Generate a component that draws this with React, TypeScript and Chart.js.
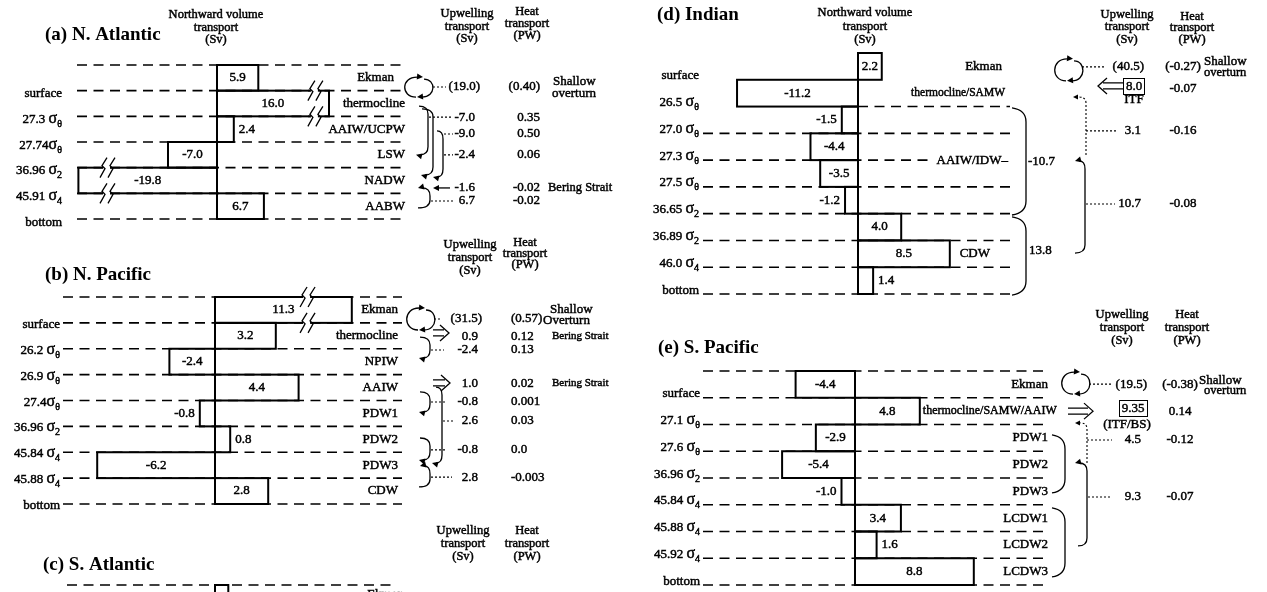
import React, { useEffect, useRef } from "react";
import { Chart, registerables } from "chart.js";

Chart.register(...registerables);

const W = 1267;
const H = 592;
const SERIF = '"Liberation Serif", "Times New Roman", Times, serif';

// ================= DATA =================
// (a) N. Atlantic
const natlLayers = ["Ekman", "thermocline", "AAIW/UCPW", "LSW", "NADW", "AABW"];
const natlTransport = [5.9, 16.0, 2.4, -7.0, -19.8, 6.7];
const natlBoundaries = ["", "surface", "27.3 σθ", "27.74σθ", "36.96 σ2", "45.91 σ4", "bottom"];
const natlUpwelling = ["(19.0)", "-7.0", "-9.0", "-2.4", "-1.6", "6.7"];
const natlHeat = ["(0.40)", "0.35", "0.50", "0.06", "-0.02", "-0.02"];

// (b) N. Pacific
const npacLayers = ["Ekman", "thermocline", "NPIW", "AAIW", "PDW1", "PDW2", "PDW3", "CDW"];
const npacTransport = [11.3, 3.2, -2.4, 4.4, -0.8, 0.8, -6.2, 2.8];
const npacBoundaries = ["", "surface", "26.2 σθ", "26.9 σθ", "27.4σθ", "36.96 σ2", "45.84 σ4", "45.88 σ4", "bottom"];
const npacUpwelling = ["(31.5)", "0.9", "-2.4", "1.0", "-0.8", "2.6", "-0.8", "2.8"];
const npacHeat = ["(0.57)", "0.12", "0.13", "0.02", "0.001", "0.03", "0.0", "-0.003"];

// (c) S. Atlantic (only the top edge is visible)
const satlLayers = ["Ekman"];
const satlTransport = [1.9];
const satlBoundaries = [""];

// (d) Indian
const indLayers = ["Ekman", "thermocline/SAMW", "", "", "", "", "", "CDW", ""];
const indTransport = [2.2, -11.2, -1.5, -4.4, -3.5, -1.2, 4.0, 8.5, 1.4];
const indBoundaries = ["", "surface", "26.5 σθ", "27.0 σθ", "27.3 σθ", "27.5 σθ", "36.65 σ2", "36.89 σ2", "46.0 σ4", "bottom"];
const indGroupLabel = "AAIW/IDW–";
const indGroupTransport = ["-10.7", "13.8"];
const indUpwelling = ["(40.5)", "8.0", "3.1", "10.7"];
const indHeat = ["(-0.27)", "-0.07", "-0.16", "-0.08"];

// (e) S. Pacific
const spacLayers = ["Ekman", "thermocline/SAMW/AAIW", "PDW1", "PDW2", "PDW3", "LCDW1", "LCDW2", "LCDW3"];
const spacTransport = [-4.4, 4.8, -2.9, -5.4, -1.0, 3.4, 1.6, 8.8];
const spacBoundaries = ["", "surface", "27.1 σθ", "27.6 σθ", "36.96 σ2", "45.84 σ4", "45.88 σ4", "45.92 σ4", "bottom"];
const spacUpwelling = ["(19.5)", "9.35", "4.5", "9.3"];
const spacHeat = ["(-0.38)", "0.14", "-0.12", "-0.07"];

// header texts
const hdrVolume = ["Northward volume", "transport", "(Sv)"];
const hdrUpwelling = ["Upwelling", "transport", "(Sv)"];
const hdrHeat = ["Heat", "transport", "(PW)"];

// ================= LAYOUT (positions in layer units) =================
const natlRowPos = [0.86, 2.03, 2.69, 3.5, 4.79, 5.3];
const npacRowPos = [0.85, 1.53, 2.05, 3.34, 4.06, 4.79, 5.91, 6.96];
const indRowPos = [0.52, 1.23, 2.91, 5.64];
const indHeatPos = [0.52, 1.34, 2.91, 5.64];
const spacRowPos = [0.49, 1.38, 2.58, 4.71];
const spacHeatPos = [0.49, 1.5, 2.58, 4.71];

// ================= DRAW HELPERS =================
type C2D = CanvasRenderingContext2D;
const INK = 0.45;

function setFont(ctx: C2D, size: number, bold = false) {
  ctx.font = `${bold ? "bold " : ""}${size}px ${SERIF}`;
}
function ink(ctx: C2D, s: string, x: number, y: number, bold = false) {
  ctx.fillStyle = "#000";
  ctx.fillText(s, x, y);
  if (!bold) {
    ctx.save();
    ctx.setLineDash([]);
    ctx.lineWidth = INK;
    ctx.strokeStyle = "#000";
    ctx.strokeText(s, x, y);
    ctx.restore();
  }
}
function text(ctx: C2D, s: string, x: number, y: number, size = 13, align: CanvasTextAlign = "left", bold = false) {
  setFont(ctx, size, bold);
  ctx.textAlign = align;
  ctx.textBaseline = "middle";
  ink(ctx, s, x, y, bold);
}
function stack(ctx: C2D, arr: string[], cx: number, ys: number[], size = 12.5) {
  arr.forEach((s, i) => text(ctx, s, cx, ys[i], size, "center"));
}
function sigmaLabel(ctx: C2D, s: string, xr: number, y: number) {
  ctx.textBaseline = "alphabetic";
  const k = s.indexOf("σ");
  if (k < 0) {
    setFont(ctx, 13);
    ctx.textAlign = "right";
    ink(ctx, s, xr, y + 4.5);
    return;
  }
  const main = s.slice(0, k);
  const sub = s.slice(k + 1);
  setFont(ctx, 13);
  const w1 = ctx.measureText(main).width;
  setFont(ctx, 16);
  const w2 = ctx.measureText("σ").width;
  setFont(ctx, 10);
  const w3 = ctx.measureText(sub).width;
  const x0 = xr - (w1 + w2 + w3);
  ctx.textAlign = "left";
  setFont(ctx, 13);
  ink(ctx, main, x0, y + 4.5);
  setFont(ctx, 16);
  ink(ctx, "σ", x0 + w1, y + 4.5);
  setFont(ctx, 10);
  ink(ctx, sub, x0 + w1 + w2, y + 8.5);
}
function arrowHead(ctx: C2D, x: number, y: number, dx: number, dy: number, len = 6, hw = 3) {
  const L = Math.hypot(dx, dy);
  const ux = dx / L, uy = dy / L;
  ctx.save();
  ctx.setLineDash([]);
  ctx.fillStyle = "#000";
  ctx.beginPath();
  ctx.moveTo(x, y);
  ctx.lineTo(x - ux * len - uy * hw, y - uy * len + ux * hw);
  ctx.lineTo(x - ux * len + uy * hw, y - uy * len - ux * hw);
  ctx.closePath();
  ctx.fill();
  ctx.restore();
}
function bracket(ctx: C2D, xTop: number, yT: number, xv: number, yB: number, xBot: number, aTop: boolean, aBot: boolean) {
  const r = Math.min(8, (yB - yT) / 2);
  ctx.save();
  ctx.setLineDash([]);
  ctx.lineWidth = 1.3;
  ctx.strokeStyle = "#000";
  ctx.beginPath();
  ctx.moveTo(aTop ? xTop + 4 : xTop, yT);
  ctx.quadraticCurveTo(xv, yT, xv, yT + r);
  ctx.lineTo(xv, yB - r);
  ctx.quadraticCurveTo(xv, yB, aBot ? xBot + 4 : xBot, yB);
  ctx.stroke();
  ctx.restore();
  if (aTop) arrowHead(ctx, xTop, yT, -1, 0.25);
  if (aBot) arrowHead(ctx, xBot, yB, -1, -0.25);
}
function brace(ctx: C2D, x: number, yT: number, yB: number, w: number) {
  ctx.save();
  ctx.setLineDash([]);
  ctx.lineWidth = 1.3;
  ctx.beginPath();
  ctx.moveTo(x, yT);
  ctx.quadraticCurveTo(x + w, yT + 2, x + w, yT + 14);
  ctx.lineTo(x + w, yB - 14);
  ctx.quadraticCurveTo(x + w, yB - 2, x, yB);
  ctx.stroke();
  ctx.restore();
}
function loop(ctx: C2D, cx: number, cy: number, rx: number, ry: number) {
  const k = rx * 1.35;
  ctx.save();
  ctx.setLineDash([]);
  ctx.lineWidth = 1.3;
  ctx.beginPath();
  ctx.moveTo(cx - 1, cy + ry);
  ctx.bezierCurveTo(cx - k, cy + ry, cx - k, cy - ry, cx, cy - ry);
  ctx.stroke();
  ctx.beginPath();
  ctx.moveTo(cx + 7, cy - ry + 2);
  ctx.bezierCurveTo(cx + k + 3, cy - ry + 2, cx + k + 3, cy + ry, cx + 5, cy + ry);
  ctx.stroke();
  ctx.restore();
  arrowHead(ctx, cx + 6, cy - ry, 1, 0.1, 6, 3);
  arrowHead(ctx, cx, cy + ry, -1, 0.1, 6, 3);
}
function dotH(ctx: C2D, x1: number, x2: number, y: number) {
  ctx.save();
  ctx.setLineDash([2, 2]);
  ctx.lineWidth = 1.1;
  ctx.beginPath();
  ctx.moveTo(x1, y);
  ctx.lineTo(x2, y);
  ctx.stroke();
  ctx.restore();
}
function hook(ctx: C2D, xv: number, yT: number, yB: number, xa: number) {
  ctx.save();
  ctx.setLineDash([2, 2]);
  ctx.lineWidth = 1.1;
  ctx.beginPath();
  ctx.moveTo(xv, yB);
  ctx.lineTo(xv, yT + 6);
  ctx.quadraticCurveTo(xv, yT, xa + 5, yT);
  ctx.stroke();
  ctx.restore();
  arrowHead(ctx, xa, yT, -1, 0, 5, 2.5);
}
function dblRight(ctx: C2D, x1: number, x2: number, y: number) {
  ctx.save();
  ctx.setLineDash([]);
  ctx.lineWidth = 1.3;
  ctx.beginPath();
  ctx.moveTo(x1, y - 3);
  ctx.lineTo(x2 - 5, y - 3);
  ctx.moveTo(x1, y + 3);
  ctx.lineTo(x2 - 5, y + 3);
  ctx.moveTo(x2 - 9, y - 8);
  ctx.lineTo(x2, y);
  ctx.lineTo(x2 - 9, y + 8);
  ctx.stroke();
  ctx.restore();
}
function dblLeft(ctx: C2D, x1: number, x2: number, y: number) {
  ctx.save();
  ctx.setLineDash([]);
  ctx.lineWidth = 1.3;
  ctx.beginPath();
  ctx.moveTo(x2, y - 3);
  ctx.lineTo(x1 + 5, y - 3);
  ctx.moveTo(x2, y + 3);
  ctx.lineTo(x1 + 5, y + 3);
  ctx.moveTo(x1 + 9, y - 8);
  ctx.lineTo(x1, y);
  ctx.lineTo(x1 + 9, y + 8);
  ctx.stroke();
  ctx.restore();
}
function boxText(ctx: C2D, s: string, cx: number, cy: number) {
  setFont(ctx, 13);
  const w = ctx.measureText(s).width + 5;
  ctx.save();
  ctx.setLineDash([]);
  ctx.lineWidth = 1;
  ctx.strokeRect(Math.round(cx - w / 2) + 0.5, Math.round(cy - 8) + 0.5, Math.round(w), 16);
  ctx.restore();
  text(ctx, s, cx, cy + 0.5, 13, "center");
}
function upCol(ctx: C2D, vals: string[], ys: number[], xr: number, pad = 5) {
  vals.forEach((v, i) => text(ctx, v, v.startsWith("(") ? xr + pad : xr, ys[i], 13, "right"));
}
function breakMark(ctx: C2D, px: number, yE: number) {
  ctx.save();
  ctx.fillStyle = "#fff";
  ctx.fillRect(px - 2, yE - 2.5, 7, 5);
  ctx.strokeStyle = "#000";
  ctx.lineWidth = 1.3;
  ctx.setLineDash([]);
  for (const dx of [-4, 4]) {
    ctx.beginPath();
    ctx.moveTo(px + dx + 6, yE - 10);
    ctx.lineTo(px + dx + 1, yE - 2);
    ctx.lineTo(px + dx + 4, yE + 1);
    ctx.lineTo(px + dx - 1, yE + 10);
    ctx.stroke();
  }
  ctx.restore();
}

// ================= PANEL CONFIG =================
type Seg = [number, number];
interface LabelOpt { x?: number; size?: number; after?: boolean }
interface PanelCfg {
  id: string;
  title: string;
  titlePos: [number, number];
  layers: string[];
  values: number[];
  boundaries: string[];
  area: [number, number, number, number];
  min: number;
  max: number;
  canvasH: number;
  cap: number;
  breaks: [number, number][];
  bLabelRight: number;
  bLabelDy: number;
  labelRight: number;
  labelOpts: Record<number, LabelOpt>;
  showValues: boolean;
  dashSeg: (i: number, zero: number, l: number, r: number) => Seg[];
  annotate: (ctx: C2D, Y: (v: number) => number) => void;
}

const fullDash = (_i: number, _z: number, l: number, r: number): Seg[] => [[l, r]];

const PANELS: PanelCfg[] = [
  {
    id: "a",
    title: "(a) N. Atlantic",
    titlePos: [45, 35],
    layers: natlLayers,
    values: natlTransport,
    boundaries: natlBoundaries,
    area: [77, 407, 65, 219],
    min: -20,
    max: 27.143,
    canvasH: H,
    cap: Infinity,
    breaks: [[1, 13.7], [4, -16.0]],
    bLabelRight: 62,
    bLabelDy: 2,
    labelRight: 405,
    labelOpts: { 0: { x: 394 } },
    showValues: true,
    dashSeg: fullDash,
    annotate: (ctx, Y) => {
      stack(ctx, hdrVolume, 216, [15, 28, 40]);
      stack(ctx, hdrUpwelling, 467, [14, 27, 39]);
      stack(ctx, hdrHeat, 527, [12, 24, 36]);
      loop(ctx, 417, Y(0.86), 12, 10);
      dotH(ctx, 433, 446, Y(0.86));
      bracket(ctx, 419, Y(1.6), 428, Y(3.5), 416, false, true);
      bracket(ctx, 422, Y(1.71), 433, Y(4.29), 421, false, true);
      bracket(ctx, 437, Y(2.57), 443, Y(4.36), 433, false, true);
      dotH(ctx, 429, 453, Y(2.03));
      dotH(ctx, 444, 453, Y(2.69));
      dotH(ctx, 444, 453, Y(3.5));
      ctx.save();
      ctx.setLineDash([]);
      ctx.lineWidth = 1.3;
      ctx.beginPath();
      ctx.moveTo(450, Y(4.79));
      ctx.lineTo(438, Y(4.79));
      ctx.stroke();
      ctx.restore();
      arrowHead(ctx, 433, Y(4.79), -1, 0);
      bracket(ctx, 418, Y(4.79), 430, Y(5.57), 418, true, false);
      dotH(ctx, 431, 453, Y(5.3));
      upCol(ctx, natlUpwelling, natlRowPos.map(Y), 475);
      natlHeat.forEach((h, i) => text(ctx, h, 540, Y(natlRowPos[i]), 13, "right"));
      text(ctx, "Shallow", 553, Y(0.86) - 5, 13);
      text(ctx, "overturn", 552, Y(0.86) + 7, 13);
      text(ctx, "Bering Strait", 548, Y(4.79), 12.5);
    },
  },
  {
    id: "b",
    title: "(b) N. Pacific",
    titlePos: [45, 275],
    layers: npacLayers,
    values: npacTransport,
    boundaries: npacBoundaries,
    area: [63, 402, 297, 504],
    min: -8,
    max: 9.842,
    canvasH: H,
    cap: 7.2,
    breaks: [[0, 4.74]],
    bLabelRight: 60,
    bLabelDy: 0.5,
    labelRight: 398,
    labelOpts: {},
    showValues: true,
    dashSeg: fullDash,
    annotate: (ctx, Y) => {
      stack(ctx, hdrUpwelling, 470, [245, 258, 271]);
      stack(ctx, hdrHeat, 525, [243, 254, 265]);
      loop(ctx, 419, Y(0.85), 12, 11);
      dotH(ctx, 434, 442, Y(0.85));
      dblRight(ctx, 433, 449, Y(1.39));
      bracket(ctx, 420, Y(1.55), 430, Y(2.36), 419, false, true);
      dotH(ctx, 431, 444, Y(2.05));
      dblRight(ctx, 433, 450, Y(3.32));
      bracket(ctx, 420, Y(3.67), 430, Y(4.44), 419, false, true);
      dotH(ctx, 431, 446, Y(4.06));
      bracket(ctx, 436, Y(3.48), 442, Y(6.42), 432, false, true);
      dotH(ctx, 443, 455, Y(4.79));
      bracket(ctx, 420, Y(5.45), 430, Y(6.3), 419, false, true);
      dotH(ctx, 431, 446, Y(5.91));
      bracket(ctx, 420, Y(6.53), 430, Y(7.34), 419, true, false);
      dotH(ctx, 431, 452, Y(6.96));
      upCol(ctx, npacUpwelling, npacRowPos.map(Y), 478, 4);
      npacHeat.forEach((h, i) => text(ctx, h, 511, Y(npacRowPos[i]), 13, "left"));
      text(ctx, "Shallow", 550, 310, 13);
      text(ctx, "Overturn", 543, 321, 13);
      text(ctx, "Bering Strait", 552, Y(1.53), 11);
      text(ctx, "Bering Strait", 552, Y(3.34), 11);
    },
  },
  {
    id: "c",
    title: "(c) S. Atlantic",
    titlePos: [43, 565],
    layers: satlLayers,
    values: satlTransport,
    boundaries: satlBoundaries,
    area: [67, 397, 585, 605],
    min: -21.143,
    max: 26,
    canvasH: 620,
    cap: Infinity,
    breaks: [],
    bLabelRight: 60,
    bLabelDy: 0,
    labelRight: 404,
    labelOpts: {},
    showValues: false,
    dashSeg: (i, _z, l, r) => (i === 0 ? [[l, r]] : []),
    annotate: (ctx) => {
      stack(ctx, hdrUpwelling, 463, [531, 544, 557]);
      stack(ctx, hdrHeat, 527, [531, 544, 557]);
    },
  },
  {
    id: "d",
    title: "(d) Indian",
    titlePos: [657, 15],
    layers: indLayers,
    values: indTransport,
    boundaries: indBoundaries,
    area: [703, 1010, 53, 294],
    min: -14.352,
    max: 14.074,
    canvasH: H,
    cap: Infinity,
    breaks: [],
    bLabelRight: 699,
    bLabelDy: -5,
    labelRight: 1005,
    labelOpts: { 0: { x: 1002 }, 1: { size: 11.5, x: 1005 }, 7: { x: 990 } },
    showValues: true,
    dashSeg: (i, z, l, r) => (i <= 1 ? [] : i === 2 ? [[z, r]] : [[l, r]]),
    annotate: (ctx, Y) => {
      stack(ctx, hdrVolume, 865, [13, 27, 40]);
      stack(ctx, hdrUpwelling, 1127, [15, 27, 40]);
      stack(ctx, hdrHeat, 1192, [17, 28, 40]);
      // group label on the 27.3 boundary
      setFont(ctx, 13);
      const gw = ctx.measureText(indGroupLabel).width;
      ctx.fillStyle = "#fff";
      ctx.fillRect(1008 - gw - 3, Y(4) - 7, gw + 5, 14);
      text(ctx, indGroupLabel, 1008, Y(4), 13, "right");
      brace(ctx, 1012, Y(2.05), Y(6.05), 14);
      text(ctx, indGroupTransport[0], 1028, Y(4.07), 13);
      brace(ctx, 1012, Y(6.12), Y(9.04), 14);
      text(ctx, indGroupTransport[1], 1029, Y(7.39), 13);
      loop(ctx, 1067, Y(0.63), 12, 11);
      dotH(ctx, 1082, 1106, Y(0.52));
      dblLeft(ctx, 1098, 1124, Y(1.23));
      hook(ctx, 1086, Y(1.64), Y(3.81), 1073);
      dotH(ctx, 1086, 1117, Y(2.91));
      bracket(ctx, 1075, Y(4.03), 1085, Y(7.47), 1075, true, false);
      dotH(ctx, 1086, 1115, Y(5.64));
      const ys = indRowPos.map(Y);
      text(ctx, indUpwelling[0], 1144, ys[0], 13, "right");
      boxText(ctx, indUpwelling[1], 1134, ys[1]);
      text(ctx, "ITF", 1134, Y(1.75), 13, "center");
      text(ctx, indUpwelling[2], 1141, ys[2], 13, "right");
      text(ctx, indUpwelling[3], 1141, ys[3], 13, "right");
      indHeat.forEach((h, i) => text(ctx, h, 1183, Y(indHeatPos[i]), 13, "center"));
      text(ctx, "Shallow", 1204, Y(0.52) - 5, 13);
      text(ctx, "overturn", 1204, Y(0.52) + 6, 12.5);
    },
  },
  {
    id: "e",
    title: "(e) S. Pacific",
    titlePos: [658, 348],
    layers: spacLayers,
    values: spacTransport,
    boundaries: spacBoundaries,
    area: [703, 1048, 371, 585],
    min: -11.259,
    max: 14.296,
    canvasH: H,
    cap: Infinity,
    breaks: [],
    bLabelRight: 700,
    bLabelDy: -5,
    labelRight: 1048,
    labelOpts: { 1: { after: true, size: 12 } },
    showValues: true,
    dashSeg: fullDash,
    annotate: (ctx, Y) => {
      stack(ctx, hdrUpwelling, 1122, [315, 328, 341]);
      stack(ctx, hdrHeat, 1187, [315, 328, 341]);
      brace(ctx, 1052, Y(2.39), Y(4.56), 13);
      brace(ctx, 1052, Y(5.12), Y(7.7), 13);
      loop(ctx, 1074, Y(0.45), 12, 11);
      dotH(ctx, 1089, 1111, Y(0.49));
      dblRight(ctx, 1068, 1093, Y(1.5));
      hook(ctx, 1087, Y(1.94), Y(3.44), 1075);
      dotH(ctx, 1087, 1112, Y(2.58));
      bracket(ctx, 1075, Y(3.44), 1087, Y(6.54), 1078, true, false);
      dotH(ctx, 1088, 1112, Y(4.71));
      const ys = spacRowPos.map(Y);
      text(ctx, spacUpwelling[0], 1147, ys[0], 13, "right");
      boxText(ctx, spacUpwelling[1], 1133, ys[1]);
      text(ctx, "(ITF/BS)", 1127, Y(2.02), 13, "center");
      text(ctx, spacUpwelling[2], 1141, ys[2], 13, "right");
      text(ctx, spacUpwelling[3], 1141, ys[3], 13, "right");
      spacHeat.forEach((h, i) => text(ctx, h, 1180, Y(spacHeatPos[i]), 13, "center"));
      text(ctx, "Shallow", 1199, Y(0.49) - 4, 13);
      text(ctx, "overturn", 1204, Y(0.49) + 7, 12.5);
    },
  },
];

// ================= CHART PLUGIN =================
function panelPlugin(p: PanelCfg) {
  const layerY = (chart: any) => {
    const ys = chart.scales.y;
    const n = p.layers.length;
    const c0 = ys.getPixelForValue(0);
    const h = n > 1 ? ys.getPixelForValue(1) - c0 : chart.chartArea.bottom - chart.chartArea.top;
    return (v: number) => c0 - h / 2 + v * h;
  };
  return {
    id: "panel_" + p.id,
    beforeDatasetsDraw(chart: any) {
      const ctx: C2D = chart.ctx;
      const a = chart.chartArea;
      const Y = layerY(chart);
      const zero = chart.scales.x.getPixelForValue(0);
      ctx.save();
      ctx.strokeStyle = "#000";
      ctx.lineWidth = 1.6;
      ctx.setLineDash([10, 6.5]);
      for (let i = 0; i <= p.layers.length; i++) {
        for (const [x1, x2] of p.dashSeg(i, zero, a.left, a.right)) {
          const y = Y(i);
          ctx.beginPath();
          ctx.moveTo(x1, y);
          ctx.lineTo(x2, y);
          ctx.stroke();
        }
      }
      ctx.restore();
    },
    afterDatasetsDraw(chart: any) {
      const ctx: C2D = chart.ctx;
      const Y = layerY(chart);
      const xs = chart.scales.x;
      const meta = chart.getDatasetMeta(0);
      const ends: number[] = [];
      meta.data.forEach((el: any, i: number) => {
        const { x, y, base, height } = el.getProps(["x", "y", "base", "height"], true);
        const l = Math.min(x, base);
        const w = Math.abs(x - base);
        ctx.save();
        ctx.strokeStyle = "#000";
        ctx.lineWidth = 2;
        ctx.setLineDash([]);
        ctx.strokeRect(l, y - height / 2, w, height);
        ctx.restore();
        ends[i] = x;
        if (p.showValues) {
          const v = p.values[i];
          const s = v.toFixed(1);
          if (w >= 23) text(ctx, s, (x + base) / 2, y, 13, "center");
          else if (v >= 0) text(ctx, s, x + 5, y, 13, "left");
          else text(ctx, s, x - 5, y, 13, "right");
        }
      });
      // broken bars
      for (const [layer, val] of p.breaks) {
        const px = xs.getPixelForValue(val);
        breakMark(ctx, px, Y(layer));
        breakMark(ctx, px, Y(layer + 1));
      }
      // boundary labels
      p.boundaries.forEach((s, i) => {
        if (s) sigmaLabel(ctx, s, p.bLabelRight, Y(i) + p.bLabelDy);
      });
      // water mass labels
      p.layers.forEach((s, i) => {
        if (!s) return;
        const o = p.labelOpts[i] || {};
        const yc = Y(i + 0.5);
        if (o.after) text(ctx, s, ends[i] + 3, yc, o.size || 13, "left");
        else text(ctx, s, o.x ?? p.labelRight, yc, o.size || 13, "right");
      });
      // title
      text(ctx, p.title, p.titlePos[0], p.titlePos[1], 19, "left", true);
      p.annotate(ctx, Y);
    },
  };
}

function makeConfig(p: PanelCfg): any {
  const [l, r, t, b] = p.area;
  return {
    type: "bar",
    data: {
      labels: p.layers,
      datasets: [
        {
          data: p.values.map((v) => Math.sign(v) * Math.min(Math.abs(v), p.cap)),
          backgroundColor: "rgba(0,0,0,0)",
          borderWidth: 0,
          barPercentage: 1,
          categoryPercentage: 1,
        },
      ],
    },
    options: {
      indexAxis: "y",
      responsive: false,
      animation: false,
      devicePixelRatio: 1,
      events: [],
      layout: { padding: { left: l, right: W - r, top: t, bottom: p.canvasH - b } },
      scales: {
        x: { type: "linear", display: false, min: p.min, max: p.max },
        y: { type: "category", display: false },
      },
      plugins: { legend: { display: false }, tooltip: { enabled: false } },
    },
    plugins: [panelPlugin(p)],
  };
}

export default function App() {
  const refs = useRef<(HTMLCanvasElement | null)[]>([]);
  useEffect(() => {
    const charts = PANELS.map((p, i) => new Chart(refs.current[i] as HTMLCanvasElement, makeConfig(p)));
    return () => charts.forEach((c) => c.destroy());
  }, []);
  return (
    <div style={{ position: "fixed", left: 0, top: 0, width: W, height: H, overflow: "hidden", background: "#fff" }}>
      {PANELS.map((p, i) => (
        <canvas
          key={p.id}
          ref={(el) => {
            refs.current[i] = el;
          }}
          width={W}
          height={p.canvasH}
          style={{ position: "absolute", left: 0, top: 0, width: W, height: p.canvasH }}
        />
      ))}
    </div>
  );
}
